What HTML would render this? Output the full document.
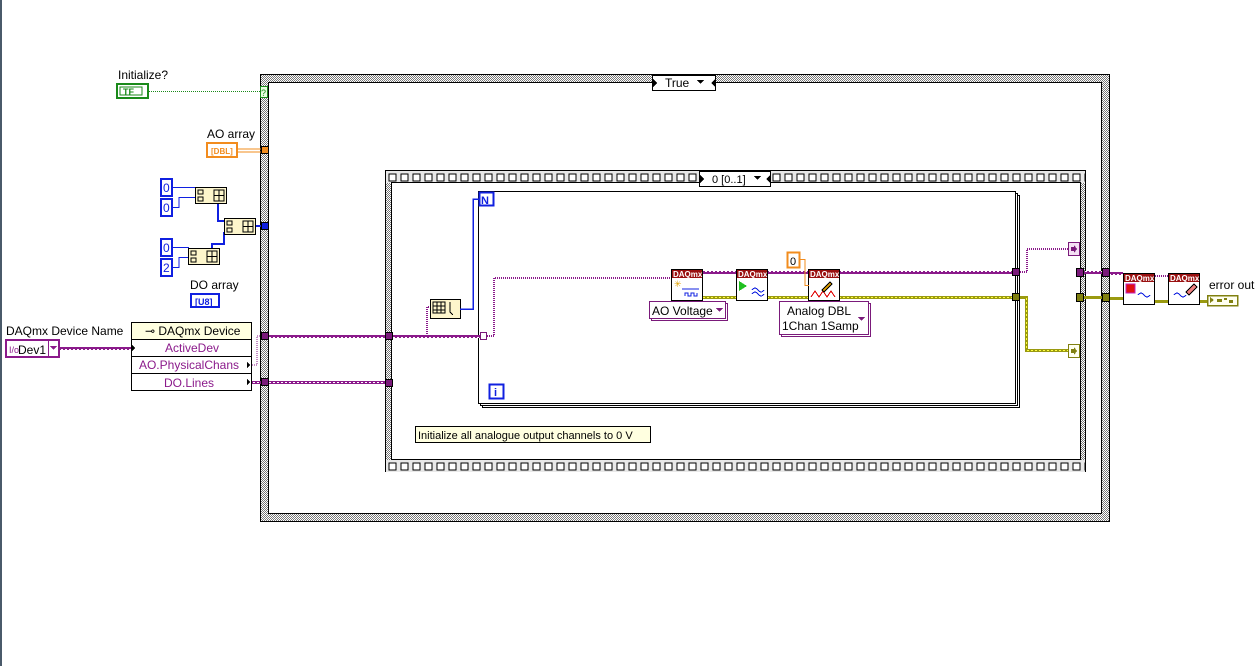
<!DOCTYPE html>
<html><head><meta charset="utf-8"><style>
html,body{margin:0;padding:0;background:#fff;width:1260px;height:666px;overflow:hidden}
text{font-family:"Liberation Sans",sans-serif}
</style></head><body>
<svg width="1260" height="666" xmlns="http://www.w3.org/2000/svg" shape-rendering="crispEdges">
<defs>
<pattern id="chk" width="2" height="2" patternUnits="userSpaceOnUse"><rect width="2" height="2" fill="#fff"/><rect width="1" height="1" fill="#777"/><rect x="1" y="1" width="1" height="1" fill="#777"/></pattern>
<pattern id="film" x="386" y="172" width="12" height="12" patternUnits="userSpaceOnUse"><rect width="12" height="12" fill="#e8e8e8"/><rect x="3" y="2" width="7" height="7" fill="#fff" stroke="#000" stroke-width="1"/></pattern>
<pattern id="film2" x="386" y="461" width="12" height="12" patternUnits="userSpaceOnUse"><rect width="12" height="12" fill="#e8e8e8"/><rect x="3" y="2" width="7" height="7" fill="#fff" stroke="#000" stroke-width="1"/></pattern>
<pattern id="pw" width="4" height="3" patternUnits="userSpaceOnUse"><rect width="4" height="3" fill="#8b1a8b"/><rect x="1" y="1" width="2" height="1" fill="#fff"/></pattern>
</defs>
<rect x="0" y="0" width="2" height="666" fill="#4a5a6a"/>

<!-- Case structure -->
<rect x="260.5" y="74.5" width="849" height="447" fill="url(#chk)" stroke="#000"/>
<rect x="268.5" y="82.5" width="833" height="431" fill="#fff" stroke="#000"/>
<rect x="652.5" y="75.5" width="63" height="15" fill="#fff" stroke="#000"/>
<text x="665" y="87" font-size="12">True</text>
<path d="M653 79 l4 4 -4 4z M715 79 l-4 4 4 4z M697 80 h7 l-3.5 4z" fill="#000"/>

<!-- Initialize -->
<text x="118" y="79" font-size="12">Initialize?</text>
<rect x="117" y="84" width="31" height="14" fill="#fff" stroke="#1a8a1a" stroke-width="2"/>
<rect x="120" y="87" width="22" height="8" fill="#fff" stroke="#1a8a1a"/>
<text x="123" y="95" font-size="9" font-weight="bold" fill="#1a8a1a">TF</text>
<line x1="149" y1="91.5" x2="261" y2="91.5" stroke="#1a8a1a" stroke-dasharray="1,1"/>
<rect x="260.5" y="86.5" width="7" height="11" fill="#e8ffe0" stroke="#1a8a1a"/>
<text x="261" y="96" font-size="9" fill="#1a8a1a">?</text>

<!-- AO array -->
<text x="207" y="138" font-size="12">AO array</text>
<rect x="207" y="143" width="30" height="14" fill="#fff" stroke="#f28c1e" stroke-width="2"/>
<text x="211" y="154" font-size="8" font-weight="bold" fill="#f28c1e">[DBL]</text>
<line x1="238" y1="149" x2="262" y2="149" stroke="#f28c1e"/><line x1="238" y1="152" x2="262" y2="152" stroke="#f28c1e"/>
<rect x="261.5" y="146.5" width="7" height="7" fill="#f28c1e" stroke="#000"/>

<!-- DO constants -->
<g fill="#fff" stroke="#1020e0" stroke-width="2">
<rect x="161" y="179" width="11" height="17"/><rect x="161" y="199" width="11" height="17"/>
<rect x="161" y="239" width="11" height="17"/><rect x="161" y="259" width="11" height="17"/>
</g>
<g font-size="12" fill="#1020e0"><text x="163" y="192">0</text><text x="163" y="212">0</text><text x="163" y="252">0</text><text x="163" y="272">2</text></g>
<g fill="none" stroke="#1020e0" stroke-width="1">
<path d="M173 187.5 h22 M173 207.5 h6 v-10 h16 M173 247.5 h16 M173 267.5 h6 v-10 h10"/>
</g>
<g fill="none" stroke="#1020e0" stroke-width="2"><path d="M218 204 v17 h6 M212 264 v-20 h12 v-12"/><path d="M256 226 h6"/></g>
<g fill="#fdf6cc" stroke="#000">
<rect x="195.5" y="187.5" width="31" height="16"/><rect x="224.5" y="218.5" width="31" height="16"/><rect x="188.5" y="248.5" width="31" height="16"/>
</g>
<g fill="none" stroke="#000" stroke-width="1">
<path d="M198 190h5v4h-5z M198 197h5v4h-5z M214 190h10v11h-10z M219 190v11 M214 195.5h10"/>
<path d="M227 221h5v4h-5z M227 228h5v4h-5z M243 221h10v11h-10z M248 221v11 M243 226.5h10"/>
<path d="M191 251h5v4h-5z M191 258h5v4h-5z M207 251h10v11h-10z M212 251v11 M207 256.5h10"/>
</g>
<rect x="261.5" y="222.5" width="7" height="7" fill="#1020e0" stroke="#000"/>
<text x="190" y="289" font-size="12">DO array</text>
<rect x="191" y="294" width="28" height="13" fill="#fff" stroke="#1020e0" stroke-width="2"/>
<text x="195" y="305" font-size="9" font-weight="bold" fill="#1020e0">[U8]</text>

<!-- Device name -->
<text x="6" y="335" font-size="12">DAQmx Device Name</text>
<rect x="6" y="340" width="53" height="17" fill="#fff" stroke="#8b1a8b" stroke-width="2"/>
<text x="9" y="353" font-size="9" fill="#8b1a8b">I/o</text>
<text x="18" y="354" font-size="12">Dev1</text>
<line x1="48.5" y1="341" x2="48.5" y2="356" stroke="#8b1a8b"/>
<path d="M50 346 h7 l-3.5 4z" fill="#8b1a8b"/>
<rect x="60" y="347" width="71" height="3" fill="url(#pw)"/>

<!-- Property node -->
<rect x="131.5" y="322.5" width="120" height="68" fill="#fff" stroke="#000"/>
<rect x="132" y="323" width="119" height="16" fill="#ffffe0"/>
<line x1="131" y1="339.5" x2="252" y2="339.5" stroke="#000"/>
<line x1="131" y1="356.5" x2="252" y2="356.5" stroke="#000"/>
<line x1="131" y1="373.5" x2="252" y2="373.5" stroke="#000"/>
<text x="145" y="335" font-size="12">⊸ DAQmx Device</text>
<g font-size="12" fill="#8b1a8b" text-anchor="middle"><text x="192" y="352">ActiveDev</text><text x="189" y="369">AO.PhysicalChans</text><text x="189" y="387">DO.Lines</text></g>
<path d="M132 345 l3 3 -3 3z M247 362 l3 3 -3 3z M247 379 l3 3 -3 3z" fill="#000"/>

<!-- wires to case tunnels -->
<path d="M252 365 h5 v-29 h4" fill="none" stroke="#8b1a8b" stroke-dasharray="1,1"/>
<rect x="252" y="381" width="10" height="3" fill="url(#pw)"/>
<rect x="261.5" y="332.5" width="7" height="7" fill="#7a1a7a" stroke="#000"/>
<rect x="261.5" y="378.5" width="7" height="7" fill="#7a1a7a" stroke="#000"/>
<rect x="269" y="335" width="117" height="3" fill="url(#pw)"/>
<rect x="269" y="381" width="117" height="3" fill="url(#pw)"/>

<!-- Sequence -->
<rect x="385.5" y="170.5" width="700" height="301" fill="url(#chk)" stroke="#000"/>
<rect x="386" y="171" width="699" height="12" fill="url(#film)"/>
<rect x="386" y="460" width="699" height="12" fill="url(#film2)"/>
<rect x="391.5" y="182.5" width="689" height="277" fill="#fff" stroke="#000"/>
<rect x="699.5" y="171.5" width="71" height="15" fill="#fff" stroke="#000"/>
<text x="712" y="183" font-size="11" fill="#000">0 [0..1]</text>
<path d="M700 175 l4 4 -4 4z M770 175 l-4 4 4 4z M754 176 h7 l-3.5 4z" fill="#000"/>
<rect x="385.5" y="332.5" width="7" height="7" fill="#7a1a7a" stroke="#000"/>
<rect x="385.5" y="379.5" width="7" height="7" fill="#7a1a7a" stroke="#000"/>
<rect x="415.5" y="426.5" width="235" height="16" fill="#ffffe0" stroke="#000"/>
<text x="418" y="439" font-size="11">Initialize all analogue output channels to 0 V</text>

<!-- For loop -->
<rect x="482.5" y="195.5" width="537" height="212" fill="#fff" stroke="#000"/>
<rect x="480.5" y="193.5" width="537" height="212" fill="#fff" stroke="#000"/>
<rect x="478.5" y="191.5" width="537" height="212" fill="#fff" stroke="#000"/>
<rect x="479.5" y="192.5" width="14" height="13" fill="#fff" stroke="#1020e0" stroke-width="2"/>
<text x="481" y="204" font-size="11" font-weight="bold" fill="#1020e0">N</text>
<rect x="489.5" y="384.5" width="14" height="14" fill="#fff" stroke="#1020e0" stroke-width="2"/>
<text x="494" y="396" font-size="11" font-weight="bold" fill="#1020e0">i</text>

<rect x="393" y="335" width="87" height="3" fill="url(#pw)"/>
<path d="M427 336 v-29 h4" fill="none" stroke="#8b1a8b" stroke-dasharray="1,1" stroke-width="2"/>
<rect x="430.5" y="299.5" width="30" height="19" fill="#fdf6cc" stroke="#000"/>
<path d="M433 302h12v11h-12z M437 302v11 M441 302v11 M433 306h12 M433 310h12 M450 302v10 l3 3" fill="none" stroke="#000"/>
<path d="M460 309 h13 v-110 h6" fill="none" stroke="#1020e0" stroke-width="1.5"/>
<rect x="480.5" y="332.5" width="6" height="7" fill="#fff" stroke="#7a1a7a"/>
<path d="M487 336 h7 v-58 h177" fill="none" stroke="#8b1a8b" stroke-dasharray="1,1" stroke-width="2"/>
<rect x="703" y="271" width="33" height="3" fill="url(#pw)"/>
<rect x="768" y="271" width="40" height="3" fill="url(#pw)"/>
<rect x="840" y="271" width="173" height="3" fill="url(#pw)"/>
<rect x="703" y="296" width="310" height="3" fill="#9a9a10"/>
<line x1="703" y1="297.5" x2="1013" y2="297.5" stroke="#ffff40" stroke-dasharray="2,2"/>

<!-- DAQmx nodes -->
<g stroke="#000">
<rect x="671.5" y="269.5" width="31" height="31" fill="#fff"/><rect x="672" y="270" width="30" height="8" fill="#9a1010" stroke="none"/>
<rect x="736.5" y="269.5" width="31" height="31" fill="#fff"/><rect x="737" y="270" width="30" height="8" fill="#9a1010" stroke="none"/>
<rect x="808.5" y="269.5" width="31" height="31" fill="#fff"/><rect x="809" y="270" width="30" height="8" fill="#9a1010" stroke="none"/>
</g>
<g font-size="8" fill="#fff" font-weight="bold"><text x="673" y="277">DAQmx</text><text x="738" y="277">DAQmx</text><text x="810" y="277">DAQmx</text></g>
<path d="M682 289 h17 M685 296 v-3 h3 v3 h3 v-3 h3 v3 h3 v-3" fill="none" stroke="#1020e0"/>
<text x="674" y="287" font-size="9" fill="#e0a000">✳</text>
<path d="M739 281 l8 5 -8 5z" fill="#20c020"/>
<path d="M752 290 q3 -4 6 0 t6 0 M752 294 q3 -4 6 0 t6 0" fill="none" stroke="#1020e0"/>
<path d="M811 297 l4 -6 4 6 4 -6 4 6 4 -6 4 6" fill="none" stroke="#e01010"/>
<path d="M822 290 l8 -8 2 2 -8 8z" fill="#e0a000" stroke="#000"/>

<!-- rings -->
<rect x="651.5" y="303.5" width="76" height="17" fill="#fff" stroke="#7a1a7a"/>
<rect x="649.5" y="301.5" width="76" height="17" fill="#fff" stroke="#7a1a7a"/>
<text x="652" y="315" font-size="12">AO Voltage</text>
<path d="M716 308 h7 l-3.5 4z" fill="#7a1a7a"/>
<rect x="781.5" y="303.5" width="89" height="33" fill="#fff" stroke="#7a1a7a"/>
<rect x="779.5" y="301.5" width="89" height="33" fill="#fff" stroke="#7a1a7a"/>
<text x="787" y="315" font-size="12">Analog DBL</text>
<text x="782" y="330" font-size="12">1Chan 1Samp</text>
<path d="M858 317 h7 l-3.5 4z" fill="#7a1a7a"/>

<rect x="787.5" y="252.5" width="12" height="15" fill="#fff" stroke="#f28c1e" stroke-width="2"/>
<text x="790" y="265" font-size="11">0</text>
<path d="M800 259.5 h5 v26 h4" fill="none" stroke="#f28c1e"/>

<!-- loop tunnels -->
<rect x="1012.5" y="268.5" width="7" height="7" fill="#7a1a7a" stroke="#000"/>
<rect x="1012.5" y="293.5" width="7" height="7" fill="#808010" stroke="#000"/>
<path d="M1020 272 h7 v-23 h41" fill="none" stroke="#8b1a8b" stroke-dasharray="1,1" stroke-width="2"/>
<rect x="1020" y="296" width="7" height="3" fill="#9a9a10"/>
<rect x="1025" y="296" width="3" height="55" fill="#9a9a10"/>
<rect x="1025" y="349" width="43" height="3" fill="#9a9a10"/>
<line x1="1026.5" y1="298" x2="1026.5" y2="350" stroke="#ffff40" stroke-dasharray="2,2"/>
<line x1="1027" y1="350.5" x2="1068" y2="350.5" stroke="#ffff40" stroke-dasharray="2,2"/>
<rect x="1068.5" y="242.5" width="11" height="13" fill="#f4e0f4" stroke="#7a1a7a"/>
<path d="M1071 247 h3 v-2 l3 4 -3 4 v-2 h-3z" fill="#7a1a7a"/>
<rect x="1068.5" y="344.5" width="11" height="13" fill="#fffff0" stroke="#808010"/>
<path d="M1071 349 h3 v-2 l3 4 -3 4 v-2 h-3z" fill="#808010"/>

<!-- seq/case right tunnels -->
<rect x="1076.5" y="268.5" width="7" height="8" fill="#7a1a7a" stroke="#000"/>
<rect x="1076.5" y="293.5" width="7" height="8" fill="#808010" stroke="#000"/>
<rect x="1084" y="271" width="20" height="3" fill="url(#pw)"/>
<rect x="1084" y="296" width="20" height="3" fill="#9a9a10"/>
<rect x="1102.5" y="268.5" width="7" height="8" fill="#7a1a7a" stroke="#000"/>
<rect x="1102.5" y="293.5" width="7" height="8" fill="#808010" stroke="#000"/>
<rect x="1110" y="272" width="13" height="3" fill="url(#pw)"/>
<rect x="1110" y="297" width="13" height="3" fill="#9a9a10"/>
<path d="M1155 276 h13" stroke="#8b1a8b" stroke-dasharray="1,1" stroke-width="2"/>
<rect x="1155" y="300" width="13" height="3" fill="#9a9a10"/>
<rect x="1200" y="300" width="8" height="3" fill="#9a9a10"/>

<g stroke="#000">
<rect x="1123.5" y="273.5" width="31" height="31" fill="#fff"/><rect x="1124" y="274" width="30" height="8" fill="#9a1010" stroke="none"/>
<rect x="1168.5" y="273.5" width="31" height="31" fill="#fff"/><rect x="1169" y="274" width="30" height="8" fill="#9a1010" stroke="none"/>
</g>
<g font-size="8" fill="#fff" font-weight="bold"><text x="1125" y="281">DAQmx</text><text x="1170" y="281">DAQmx</text></g>
<rect x="1126" y="284" width="9" height="9" fill="#e01010" stroke="#c020c0"/>
<path d="M1138 295 q3 -4 6 0 t6 0 M1174 295 q3 -4 6 0 t6 0" fill="none" stroke="#1020e0"/>
<path d="M1186 292 l8 -8 3 3 -8 8z" fill="#f08080" stroke="#000"/>
<text x="1209" y="289" font-size="12">error out</text>
<rect x="1207.5" y="295.5" width="30" height="10" fill="#fffff0" stroke="#808010" stroke-width="1.5"/>
<path d="M1210 297 l4 3 -4 3z M1217 299h5v3h-5z M1224 298h3v2h-3z M1229 300h4v3h-4z" fill="#808010"/>
</svg>
</body></html>
